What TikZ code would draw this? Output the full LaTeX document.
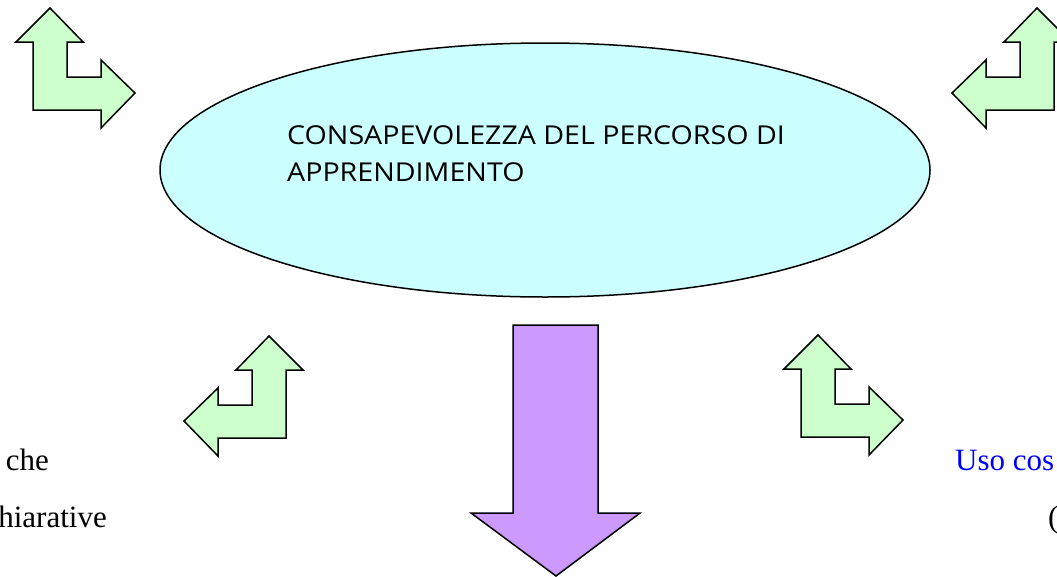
\documentclass[tikz,border=0pt]{standalone}
\usepackage{fontspec}
\setmainfont{Liberation Serif}
\newfontfamily\comicfont[FakeStretch=1.1]{Open Sans}
\usepackage{tikz}
\usetikzlibrary{shapes.geometric}

\definecolor{verdino}{HTML}{CCFFCC}
\definecolor{azzurrino}{HTML}{CCFFFF}
\definecolor{lilla}{HTML}{CC99FF}

\tikzset{
    frecciaverde/.style={draw=black, line width=1.5pt, fill=verdino, line join=miter},
    freccialilla/.style={draw=black, line width=1.5pt, fill=lilla, line join=miter},
    ovale/.style={draw=black, line width=1.5pt, fill=azzurrino, ellipse,
        minimum width=770pt, minimum height=254pt, inner sep=0pt},
    titolo/.style={inner sep=0pt, align=left, font=\comicfont\fontsize{26}{37}\selectfont},
    testo/.style={inner sep=0pt, font=\fontsize{31}{37}\selectfont}
}

\begin{document}
\begin{tikzpicture}[x=1pt,y=-1pt]
        \useasboundingbox (0,0) rectangle (1057,576);
        \clip (0,0) rectangle (1057,576);

        % Bent arrows in the four corners
        \foreach \sx/\dx/\dy in {1/0/0, -1/1087/0, -1/319/328, 1/768/327}
            \draw[frecciaverde, shift={(\dx,\dy)}, xscale=\sx]
                (50,8) -- (83,42) -- (67,42) -- (67,77) -- (101,77) -- (101,60)
                -- (135,93) -- (101,128) -- (101,110) -- (33,110) -- (33,42)
                -- (16,42) -- cycle;

        % Central ellipse
        \node[ovale] (consap) at (545,170) {};
        \node[titolo, anchor=north west] (titolo) at (287,125)
            {CONSAPEVOLEZZA DEL PERCORSO DI\\APPRENDIMENTO};

        % Down arrow
        \draw[freccialilla] (513,325) -- (598,325) -- (598,513) -- (640,513)
            -- (556,576) -- (471,513) -- (513,513) -- cycle;

        % Texts at the bottom edges
        \node[testo, anchor=base east] (che) at (49,470) {che};
        \node[testo, anchor=base east] (chiarative) at (107,527) {hiarative};
        \node[testo, text=blue, anchor=base west] (uso) at (955,470) {Uso cos};
        \node[testo, anchor=base west] (parentesi) at (1048,527) {(};
\end{tikzpicture}
\end{document}
